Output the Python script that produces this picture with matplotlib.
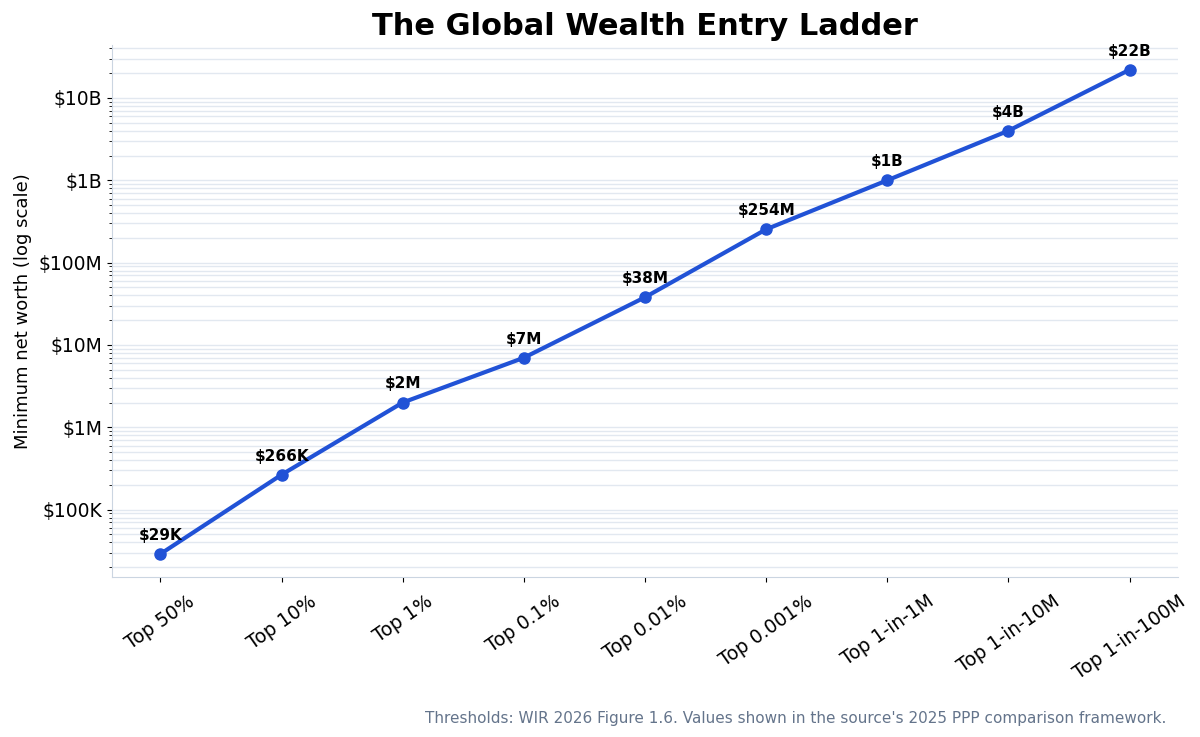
import numpy as np
import matplotlib.pyplot as plt
from matplotlib.ticker import FuncFormatter, LogLocator

plt.rcParams['font.family'] = ['DejaVu Sans']

tiers = ['Top 50%', 'Top 10%', 'Top 1%', 'Top 0.1%', 'Top 0.01%', 'Top 0.001%',
         'Top 1-in-1M', 'Top 1-in-10M', 'Top 1-in-100M']
thresholds = [29e3, 266e3, 2e6, 7e6, 38e6, 254e6, 1e9, 4e9, 22e9]
point_labels = ['$29K', '$266K', '$2M', '$7M', '$38M', '$254M', '$1B', '$4B', '$22B']


def money(v, pos=None):
    if v >= 1e9:
        return f'${v/1e9:.0f}B'
    if v >= 1e6:
        return f'${v/1e6:.0f}M'
    if v >= 1e3:
        return f'${v/1e3:.0f}K'
    return f'${v:.0f}'


fig = plt.figure(figsize=(12, 7.37), dpi=100)
ax = fig.add_axes([0.0933, 0.217, 0.8884, 0.722])

x = np.arange(len(tiers))
ax.plot(x, thresholds, color='#2152d6', lw=3, marker='o', ms=8, zorder=3)
for xi, v, lab in zip(x, thresholds, point_labels):
    ax.annotate(lab, (xi, v), xytext=(0, 8), textcoords='offset points',
                ha='center', va='bottom', fontsize=11, fontweight='bold')

ax.set_yscale('log')
ax.set_ylim(15.2e3, 44e9)
ax.set_xlim(-0.4, 8.4)
ax.yaxis.set_major_locator(LogLocator(base=10, numticks=20))
ax.yaxis.set_minor_locator(LogLocator(base=10, subs=np.arange(2, 10), numticks=20))
ax.yaxis.set_major_formatter(FuncFormatter(money))
ax.grid(True, which='both', axis='y', color='#e2e8f0', lw=1)
ax.set_axisbelow(True)

ax.set_xticks(x)
ax.set_xticklabels(tiers, rotation=35, fontsize=13.5)
ax.tick_params(axis='x', pad=7)
ax.tick_params(axis='y', labelsize=13.5)
ax.set_ylabel('Minimum net worth (log scale)', fontsize=13, labelpad=5)
ax.set_title('The Global Wealth Entry Ladder', fontsize=22, fontweight='bold', pad=7)

for s in ['top', 'right']:
    ax.spines[s].set_visible(False)
for s in ['left', 'bottom']:
    ax.spines[s].set_color('#cbd5e1')

fig.text(0.972, 0.015, "Thresholds: WIR 2026 Figure 1.6. Values shown in the source's 2025 PPP comparison framework.",
         ha='right', va='bottom', fontsize=11, color='#64748b')

fig.savefig('out.png', dpi=100)
